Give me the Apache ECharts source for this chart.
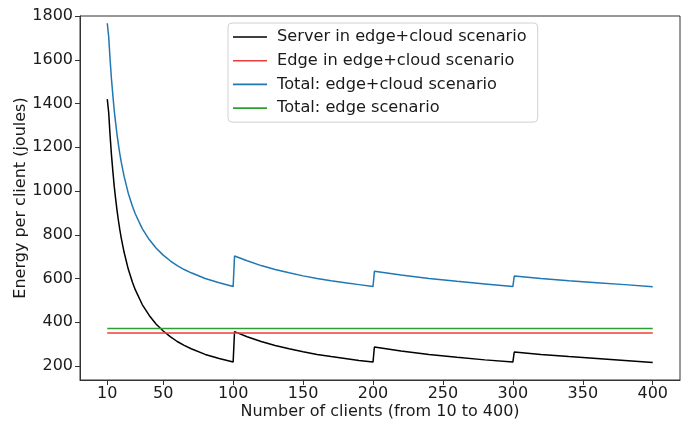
<!DOCTYPE html>
<html><head><meta charset="utf-8">
<script src="https://cdn.jsdelivr.net/npm/echarts@6/dist/echarts.min.js"></script>
<style>html,body{margin:0;padding:0;background:#fff}#c{width:681px;height:421px}</style>
</head><body><div id="c"></div>
<script>
const clients = [10,11,12,13,14,15,16,17,18,19,20,22,25,28,30,35,40,45,50,55,60,65,70,80,90,100,
  101,110,120,130,140,150,160,170,180,190,200,
  201,220,240,260,280,300,
  301,320,340,360,380,400];
const serverEdgeCloud = [1420,1360,1255,1165,1090,1020,963,910,864,822,785,721,643,583,549,481,431,391,360,334,312,294,279,253,234,218,
  357,334,312,294,279,265,253,243,234,225,218,
  287,269,253,240,228,218,
  264,253,243,234,225,216];
const totalEdgeCloud = [1767,1707,1602,1512,1437,1367,1310,1257,1211,1169,1132,1068,990,930,896,828,778,738,707,681,659,641,626,600,581,563,
  703,681,659,641,626,612,600,590,581,572,563,
  633,616,600,587,575,563,
  611,600,590,581,572,562];
const edgeInEdgeCloud = 351;   // constant
const totalEdge = 372;         // constant
const lineRange = [10, 400];
const xTicks = [10,50,100,150,200,250,300,350,400];
const yTicks = [200,400,600,800,1000,1200,1400,1600,1800];
const seriesNames = ['Server in edge+cloud scenario','Edge in edge+cloud scenario','Total: edge+cloud scenario','Total: edge scenario'];

const zip = (xs, ys) => xs.map((x,i)=>[x, ys[i]]);
const font = 'DejaVu Sans';
const chart = echarts.init(document.getElementById('c'), null, {renderer:'canvas'});
chart.setOption({
  animation:false,
  textStyle:{fontFamily:font},
  grid:{left:80,top:16,right:1,bottom:41,show:true,borderColor:'#333',borderWidth:1,
        containLabel:false,outerBoundsMode:'none'},
  legend:{
    orient:'vertical',left:228,top:23,
    data:seriesNames,
    icon:'rect',itemWidth:34,itemHeight:1.6,itemGap:7.7,
    textStyle:{fontFamily:font,fontSize:16.2,color:'#1a1a1a',padding:[0,0,0,5]},
    borderColor:'#d0d0d0',borderWidth:1,borderRadius:4,padding:[6,11,6,5],
    backgroundColor:'rgba(255,255,255,0.8)'
  },
  xAxis:{
    type:'value',min:-9.5,max:419.5,
    name:'Number of clients (from 10 to 400)',nameLocation:'middle',nameGap:24,nameMoveOverlap:false,
    nameTextStyle:{fontFamily:font,fontSize:16,color:'#1a1a1a'},
    axisLine:{show:true,onZero:false,lineStyle:{color:'#333',width:1}},
    axisTick:{show:true,length:5,customValues:xTicks,lineStyle:{color:'#333'}},
    axisLabel:{customValues:xTicks,fontFamily:font,fontSize:16,color:'#1a1a1a',margin:6,
               formatter:v=>String(v)},
    splitLine:{show:false}
  },
  yAxis:{
    type:'value',min:136,max:1800,
    name:'Energy per client (joules)',nameLocation:'middle',nameGap:51,nameRotate:90,nameMoveOverlap:false,
    nameTextStyle:{fontFamily:font,fontSize:16,color:'#1a1a1a'},
    axisLine:{show:true,onZero:false,lineStyle:{color:'#333',width:1}},
    axisTick:{show:true,length:5,customValues:yTicks,lineStyle:{color:'#333'}},
    axisLabel:{customValues:yTicks,fontFamily:font,fontSize:16,color:'#1a1a1a',margin:7,
               formatter:v=>String(v)},
    splitLine:{show:false}
  },
  series:[
    {name:seriesNames[0],type:'line',showSymbol:false,data:zip(clients,serverEdgeCloud),
     lineStyle:{color:'#000',width:1.5},itemStyle:{color:'#000'}},
    {name:seriesNames[1],type:'line',showSymbol:false,data:[[lineRange[0],edgeInEdgeCloud],[lineRange[1],edgeInEdgeCloud]],
     lineStyle:{color:'#f03c3c',width:1.5},itemStyle:{color:'#f03c3c'}},
    {name:seriesNames[2],type:'line',showSymbol:false,data:zip(clients,totalEdgeCloud),
     lineStyle:{color:'#1f77b4',width:1.5},itemStyle:{color:'#1f77b4'}},
    {name:seriesNames[3],type:'line',showSymbol:false,data:[[lineRange[0],totalEdge],[lineRange[1],totalEdge]],
     lineStyle:{color:'#2ca02c',width:1.5},itemStyle:{color:'#2ca02c'}}
  ]
});
</script></body></html>
